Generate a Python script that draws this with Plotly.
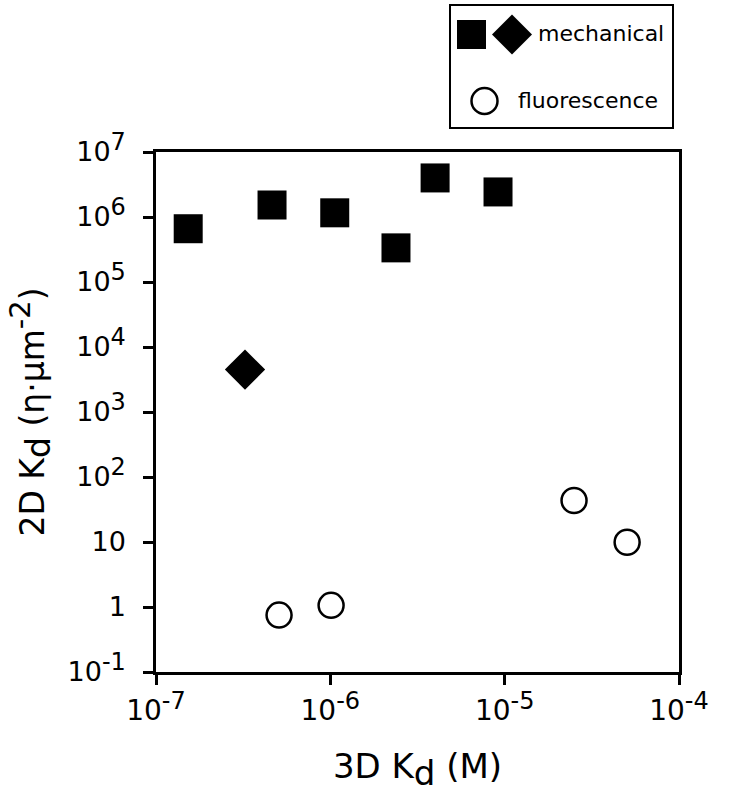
import plotly.graph_objects as go

# --- data ---
mech_sq_x = [1.53e-7, 4.63e-7, 1.06e-6, 2.38e-6, 3.99e-6, 9.16e-6]
mech_sq_y = [6.6e5, 1.53e6, 1.16e6, 3.35e5, 3.99e6, 2.43e6]
mech_dia_x = [3.24e-7]
mech_dia_y = [4.5e3]
fluo_x = [5.08e-7, 1.01e-6, 2.5e-5, 5.04e-5]
fluo_y = [0.75, 1.06, 43.5, 9.9]

x_tickvals = [1e-7, 1e-6, 1e-5, 1e-4]
x_exponents = ["-7", "-6", "-5", "-4"]
y_tickvals = [1e-1, 1, 10, 1e2, 1e3, 1e4, 1e5, 1e6, 1e7]
y_exponents = ["-1", None, None, "2", "3", "4", "5", "6", "7"]
y_plain = {1: "1", 10: "10"}

FONT = "DejaVu Sans, Verdana, sans-serif"
SUP = "<sup><span style='font-size:24px'>{}</span></sup>"


def pow_label(e):
    return "10" + SUP.format(e)


x_ticktext = [pow_label(e) for e in x_exponents]
y_ticktext = []
for v, e in zip(y_tickvals, y_exponents):
    if e is None:
        y_ticktext.append(y_plain[int(v)])
    else:
        y_ticktext.append(pow_label(e))

fig = go.Figure()
fig.add_trace(go.Scatter(x=mech_sq_x, y=mech_sq_y, mode="markers",
                         marker=dict(symbol="square", size=29, color="black"),
                         showlegend=False))
fig.add_trace(go.Scatter(x=mech_dia_x, y=mech_dia_y, mode="markers",
                         marker=dict(symbol="diamond", size=31, color="black"),
                         showlegend=False))
fig.add_trace(go.Scatter(x=fluo_x, y=fluo_y, mode="markers",
                         marker=dict(symbol="circle", size=25, color="white",
                                     line=dict(color="black", width=2.5)),
                         showlegend=False))

# plot area in pixels (body margin removed by post_script)
L, R, T, B = 156, 679, 152, 672
W, H = R - L, B - T


def px(x):
    return (x - L) / W


def py(y):
    return (B - y) / H


shapes = []
# legend box
shapes.append(dict(type="rect", xref="paper", yref="paper",
                   x0=px(450), x1=px(673), y0=py(128), y1=py(5),
                   line=dict(color="black", width=2), fillcolor="white", layer="above"))
# legend square
shapes.append(dict(type="rect", xref="paper", yref="paper",
                   x0=px(457), x1=px(486), y0=py(49), y1=py(20),
                   line=dict(width=0), fillcolor="black", layer="above"))
# legend diamond
cx, cy, h = 512, 34.5, 20
path = "M {},{} L {},{} L {},{} L {},{} Z".format(
    px(cx), py(cy - h), px(cx + h), py(cy), px(cx), py(cy + h), px(cx - h), py(cy))
shapes.append(dict(type="path", xref="paper", yref="paper", path=path,
                   line=dict(width=0), fillcolor="black", layer="above"))
# legend circle
shapes.append(dict(type="circle", xref="paper", yref="paper",
                   x0=px(471.5), x1=px(497.5), y0=py(114), y1=py(88),
                   line=dict(color="black", width=2.5), fillcolor="white", layer="above"))

annotations = [
    dict(text="mechanical", xref="paper", yref="paper", x=px(536), y=py(34),
         xanchor="left", yanchor="middle", showarrow=False,
         font=dict(family=FONT, size=22, color="black")),
    dict(text="fluorescence", xref="paper", yref="paper", x=px(516), y=py(101),
         xanchor="left", yanchor="middle", showarrow=False,
         font=dict(family=FONT, size=22, color="black")),
]

fig.update_layout(
    width=729, height=796,
    margin=dict(l=L, r=729 - R, t=T, b=796 - B),
    paper_bgcolor="white", plot_bgcolor="white",
    font=dict(family=FONT, size=27, color="black"),
    shapes=shapes, annotations=annotations,
    showlegend=False,
)
fig.update_xaxes(type="log", range=[-7, -4], tickvals=x_tickvals, ticktext=x_ticktext,
                 showgrid=False, zeroline=False, showline=True, linecolor="black",
                 linewidth=2.5, mirror=True, ticks="outside", ticklen=10, tickwidth=2.5,
                 tickcolor="black", tickfont=dict(size=28), ticklabelstandoff=2,
                 title=dict(text="3D K<sub><span style='font-size:34px'>d</span></sub> (M)",
                            font=dict(size=34), standoff=28))
fig.update_yaxes(type="log", range=[-1, 7], tickvals=y_tickvals, ticktext=y_ticktext,
                 showgrid=False, zeroline=False, showline=True, linecolor="black",
                 linewidth=2.5, mirror=True, ticks="outside", ticklen=10, tickwidth=2.5,
                 tickcolor="black", tickfont=dict(size=27), ticklabelstandoff=12,
                 title=dict(text="2D K<sub><span style='font-size:33px'>d</span></sub> (η·µm<sup><span style='font-size:29px'>-2</span></sup>)",
                            font=dict(size=33), standoff=14))

fig.write_html("out.html", config={"displayModeBar": False},
               post_script="document.body.style.margin='0';document.body.style.overflow='hidden';")
